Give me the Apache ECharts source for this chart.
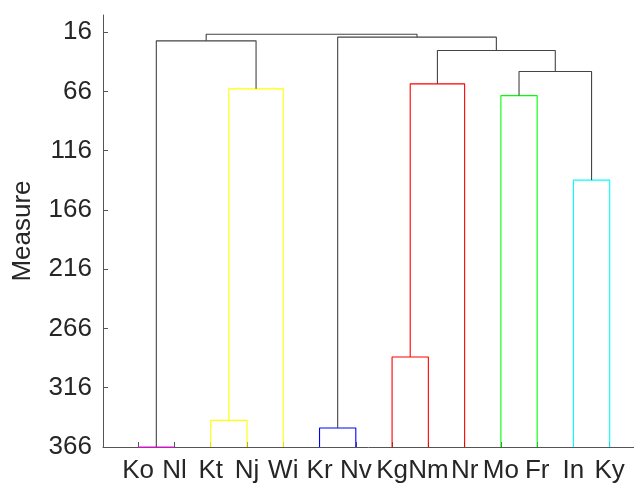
<!DOCTYPE html>
<html>
<head>
<meta charset="utf-8">
<script src="https://cdn.jsdelivr.net/npm/echarts@6/dist/echarts.min.js"></script>
<style>html,body{margin:0;padding:0;background:#fff;}#c{width:634px;height:488px;}</style>
</head>
<body>
<div id="c"></div>
<script>
// Leaf labels in dendrogram order
var leaves = ['Ko','Nl','Kt','Nj','Wi','Kr','Nv','Kg','Nm','Nr','Mo','Fr','In','Ky'];
// Linkage rows: left node, right node (1..14 leaves, 15+ clusters), merge height
var linkLeft   = [1, 6, 3, 8, 13, 11, 17, 18, 20, 22, 15, 16, 25];
var linkRight  = [2, 7, 4, 9, 14, 12, 5, 10, 19, 23, 21, 24, 26];
var linkHeight = [366, 350, 343.5, 290, 140.8, 69.5, 63.8, 59.6, 49.2, 31.5, 23.3, 20.2, 17.7];
var linkColor  = ['#ff00ff','#0000ff','#ffff00','#ff0000','#00ffff','#00ff00','#ffff00','#ff0000','#444444','#444444','#444444','#444444','#444444'];
// Y ticks
var yTicks = [16, 66, 116, 166, 216, 266, 316, 366];

var nLeaf = leaves.length;
var leafHeight = 366;
var nodeX = {}, nodeY = {};
for (var i = 1; i <= nLeaf; i++) { nodeX[i] = i; nodeY[i] = leafHeight; }
var series = [];
for (var k = 0; k < linkLeft.length; k++) {
  var a = linkLeft[k], b = linkRight[k], h = linkHeight[k];
  series.push({
    type: 'line', silent: true, symbol: 'none', animation: false, clip: false,
    lineStyle: { color: linkColor[k], width: 1.1 },
    data: [[nodeX[a], nodeY[a]], [nodeX[a], h], [nodeX[b], h], [nodeX[b], nodeY[b]]]
  });
  var id = nLeaf + 1 + k;
  nodeX[id] = (nodeX[a] + nodeX[b]) / 2;
  nodeY[id] = h;
}
var xTicks = leaves.map(function (_, i) { return i + 1; });

var chart = echarts.init(document.getElementById('c'), null, { renderer: 'canvas' });
var font = 'Liberation Sans, Arial, sans-serif';
chart.setOption({
  backgroundColor: '#fff',
  animation: false,
  grid: { left: 103, right: 0, top: 15, height: 432 },
  xAxis: {
    type: 'value', min: 0.03, max: 14.67,
    splitLine: { show: false },
    axisLine: { lineStyle: { color: '#555', width: 1 } },
    axisTick: { inside: true, length: 5, customValues: xTicks, lineStyle: { color: '#555' } },
    axisLabel: {
      customValues: xTicks, margin: 11, fontSize: 26, fontFamily: font, color: '#262626',
      formatter: function (v) { return leaves[Math.round(v) - 1] || ''; }
    }
  },
  yAxis: {
    type: 'value', inverse: true, min: 1.5, max: 366,
    splitLine: { show: false },
    axisLine: { show: true, lineStyle: { color: '#555', width: 1 } },
    axisTick: { show: true, inside: true, length: 5, customValues: yTicks, lineStyle: { color: '#555' } },
    axisLabel: { customValues: yTicks, margin: 11, fontSize: 26, fontFamily: font, color: '#262626' },
    name: 'Measure', nameLocation: 'middle', nameRotate: 90, nameGap: 67,
    nameTextStyle: { fontSize: 26, fontFamily: font, color: '#262626' }
  },
  series: series
});
</script>
</body>
</html>
